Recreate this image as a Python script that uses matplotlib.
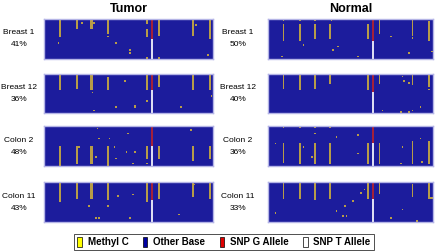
import numpy as np
import matplotlib
matplotlib.use("Agg")
import matplotlib.pyplot as plt
from matplotlib.colors import ListedColormap
from matplotlib.patches import Patch

plt.rcParams['font.family'] = ['Liberation Sans', 'DejaVu Sans']

# grid of reads (rows) x positions (cols)
n_rows, n_cols = 24, 100
snp_col = 63

groups = ['Tumor', 'Normal']
samples = ['Breast 1', 'Breast 12', 'Colon 2', 'Colon 11']
tumor_pct = ['41%', '36%', '48%', '43%']
normal_pct = ['50%', '40%', '36%', '33%']

# methylated runs: (col, first_row, last_row); single dots: (col, row)
# snp split: rows above carry the G allele, rows below the T allele
t_breast1_runs = [(9, 0, 10), (19, 0, 5), (27, 0, 5), (28, 0, 5), (37, 0, 8), (60, 0, 2),
                  (60, 6, 10), (67, 0, 9), (87, 0, 9), (97, 0, 11)]
t_breast1_dots = [(8, 14), (29, 2), (37, 10), (60, 23), (67, 23), (22, 2), (42, 14),
                  (50, 18), (50, 20), (89, 3), (96, 21)]
t_breast1_split = 12

t_breast12_runs = [(9, 0, 9), (19, 0, 8), (27, 0, 9), (28, 0, 9), (37, 2, 9), (60, 0, 9),
                   (67, 0, 7), (87, 0, 9), (97, 0, 9)]
t_breast12_dots = [(28, 11), (60, 16), (47, 4), (29, 22), (42, 20), (53, 19), (53, 20),
                   (80, 20), (98, 13)]
t_breast12_split = 10

t_colon2_runs = [(9, 12, 23), (19, 12, 22), (27, 12, 22), (28, 12, 22), (37, 12, 23),
                 (60, 12, 19), (67, 12, 19), (87, 12, 20), (97, 12, 19)]
t_colon2_dots = [(60, 22), (31, 1), (32, 7), (38, 7), (49, 4), (20, 12), (41, 12), (48, 15),
                 (53, 15), (42, 19), (52, 22), (86, 2), (30, 18)]
t_colon2_split = 12

t_colon11_runs = [(9, 0, 11), (19, 0, 9), (27, 0, 9), (28, 0, 9), (37, 0, 10), (60, 0, 11),
                  (67, 0, 9), (87, 0, 8), (97, 0, 9)]
t_colon11_dots = [(88, 1), (43, 8), (52, 7), (26, 14), (37, 14), (30, 21), (32, 21),
                  (50, 21), (79, 19)]
t_colon11_split = 11

n_breast1_runs = [(9, 3, 12), (19, 3, 12), (28, 3, 11), (37, 3, 11), (60, 3, 11),
                  (67, 0, 8), (87, 0, 9), (97, 1, 12)]
n_breast1_dots = [(9, 0), (19, 0), (28, 0), (38, 0), (21, 15), (42, 16), (39, 18), (54, 22),
                  (8, 22), (85, 20), (99, 19), (74, 10), (87, 11)]
n_breast1_split = 13

n_breast12_runs = [(9, 0, 8), (19, 0, 9), (28, 0, 8), (37, 0, 5), (60, 0, 9), (67, 0, 5),
                   (87, 0, 6), (97, 0, 7)]
n_breast12_dots = [(97, 9), (81, 1), (82, 4), (85, 5), (69, 22), (80, 23), (87, 22),
                   (92, 20), (85, 23)]
n_breast12_split = 11

n_colon2_runs = [(9, 10, 21), (19, 10, 22), (28, 10, 22), (37, 10, 22), (60, 10, 22),
                 (67, 10, 22), (87, 9, 22), (97, 9, 22)]
n_colon2_dots = [(9, 0), (19, 0), (28, 0), (37, 0), (28, 4), (41, 6), (54, 5), (4, 10),
                 (21, 12), (26, 18), (54, 16), (81, 12), (92, 7), (93, 21), (80, 22)]
n_colon2_split = 10

n_colon11_runs = [(9, 0, 9), (19, 0, 9), (28, 0, 10), (37, 0, 9), (60, 0, 9), (67, 0, 6),
                  (87, 1, 8), (97, 0, 9)]
n_colon11_dots = [(98, 9), (99, 9), (58, 4), (56, 6), (51, 11), (46, 14), (4, 18), (41, 17),
                  (45, 20), (47, 20), (74, 21), (81, 16), (90, 23)]
n_colon11_split = 10

legend_labels = ['Methyl C', 'Other Base', 'SNP G Allele', 'SNP T Allele']
colors = ['#1c1c9c', '#b79c48', '#a3203a', '#dcdcf2']
legend_colors = ['#ffff00', '#0000a0', '#e00000', '#ffffff']


def build(runs, dots, split):
    m = np.zeros((n_rows, n_cols), dtype=int)
    for c, r0, r1 in runs:
        m[r0:r1 + 1, c] = 1
    for c, r in dots:
        m[r, c] = 1
    m[:split, snp_col] = 2
    m[split:, snp_col] = 3
    return m


tumor = [(t_breast1_runs, t_breast1_dots, t_breast1_split),
         (t_breast12_runs, t_breast12_dots, t_breast12_split),
         (t_colon2_runs, t_colon2_dots, t_colon2_split),
         (t_colon11_runs, t_colon11_dots, t_colon11_split)]
normal = [(n_breast1_runs, n_breast1_dots, n_breast1_split),
          (n_breast12_runs, n_breast12_dots, n_breast12_split),
          (n_colon2_runs, n_colon2_dots, n_colon2_split),
          (n_colon11_runs, n_colon11_dots, n_colon11_split)]

W, H = 440, 252
fig = plt.figure(figsize=(W / 100, H / 100), dpi=100)
cmap = ListedColormap(colors)

panel_x = [(44, 213), (268, 433)]
label_x = [19, 238]
panel_y = [(19, 59), (74, 113), (126, 166), (182, 222)]

for g, (data, pct) in enumerate([(tumor, tumor_pct), (normal, normal_pct)]):
    x0, x1 = panel_x[g]
    fig.text((x0 + x1) / 2 / W, 1 - 9 / H, groups[g], ha='center', va='center',
             fontsize=9, fontweight='bold')
    for i, (runs, dots, split) in enumerate(data):
        y0, y1 = panel_y[i]
        ax = fig.add_axes([x0 / W, 1 - y1 / H, (x1 - x0) / W, (y1 - y0) / H])
        ax.imshow(build(runs, dots, split), cmap=cmap, vmin=-0.5, vmax=3.5,
                  aspect='auto', interpolation='nearest')
        ax.set_xticks([])
        ax.set_yticks([])
        for s in ax.spines.values():
            s.set_color('#b4b4e6')
            s.set_linewidth(1.0)
        yc = (y0 + y1) / 2
        fig.text(label_x[g] / W, 1 - (yc - 6) / H, samples[i], ha='center', va='center',
                 fontsize=6)
        fig.text(label_x[g] / W, 1 - (yc + 6) / H, pct[i], ha='center', va='center',
                 fontsize=6)

handles = [Patch(facecolor=c, edgecolor='black', linewidth=0.5) for c in legend_colors]
leg = fig.legend(handles, legend_labels, loc='center', bbox_to_anchor=(224 / W, 1 - 242 / H),
                 ncol=4, prop={'weight': 'bold', 'size': 7}, frameon=True,
                 fancybox=False, handlelength=0.45, handleheight=1.2, handletextpad=0.6,
                 columnspacing=1.5, borderpad=0.3)
leg.get_frame().set_edgecolor('black')
leg.get_frame().set_linewidth(0.6)

fig.savefig('out.png', dpi=100)
